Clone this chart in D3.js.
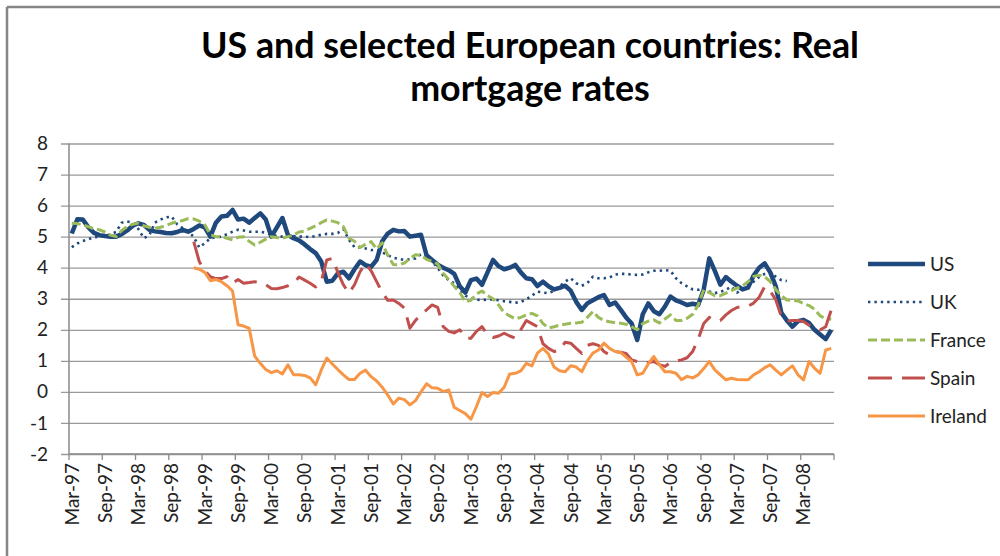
<!DOCTYPE html>
<html>
<head>
<meta charset="utf-8">
<script src="https://cdn.jsdelivr.net/npm/d3@7"></script>
<style>
  body { margin: 0; background: #fff; }
  svg { display: block; font-family: Lato, "Open Sans", sans-serif; }
</style>
</head>
<body>
<svg id="chart" width="1000" height="556"></svg>
<script>
// Monthly categories Mar-97 .. Aug-08
var startMonth = new Date(1997, 2, 1);
var months = d3.timeMonth.range(startMonth, new Date(2008, 8, 1));
var tickLabels = ["Mar-97","Sep-97","Mar-98","Sep-98","Mar-99","Sep-99","Mar-00","Sep-00",
  "Mar-01","Sep-01","Mar-02","Sep-02","Mar-03","Sep-03","Mar-04","Sep-04","Mar-05","Sep-05",
  "Mar-06","Sep-06","Mar-07","Sep-07","Mar-08"];
var yTicks = [-2, -1, 0, 1, 2, 3, 4, 5, 6, 7, 8];

var usValues = [5.1,5.56,5.55,5.3,5.12,5.05, 5.02,5.0,5.0,5.08,5.2,5.35, 5.43,5.38,5.22,5.17,5.15,5.12,
  5.11,5.15,5.22,5.16,5.25,5.36, 5.3,5.0,5.45,5.65,5.67,5.86, 5.55,5.58,5.45,5.6,5.75,5.55,
  5.0,5.3,5.6,5.05,4.95,4.88, 4.75,4.6,4.47,4.2,3.55,3.58, 3.82,3.87,3.66,3.95,4.2,4.08,
  4.03,4.25,4.85,5.1,5.22,5.17, 5.18,5.0,5.03,5.06,4.4,4.25, 4.1,4.0,3.92,3.8,3.4,3.2,
  3.6,3.65,3.45,3.85,4.25,4.05, 3.95,4.0,4.09,3.85,3.66,3.63, 3.41,3.55,3.4,3.3,3.35,3.42,
  3.26,2.9,2.64,2.85,2.95,3.05, 3.12,2.8,2.88,2.65,2.4,2.2, 1.67,2.5,2.85,2.6,2.5,2.75,
  3.07,2.95,2.88,2.8,2.84,2.8, 3.3,4.3,3.9,3.45,3.7,3.55, 3.42,3.3,3.36,3.75,4.0,4.14,
  3.85,3.4,2.55,2.3,2.1,2.28, 2.32,2.22,2.0,1.85,1.7,2.0];

var ukValues = [4.66,4.78,4.86,4.92,4.98,5.0, 5.02,5.08,5.15,5.45,5.49,5.45, 5.25,4.95,5.05,5.45,5.55,5.62,
  5.65,5.4,5.28,5.15,5.0,4.65, 4.79,4.95,4.98,5.0,5.08,5.16, 5.22,5.2,5.16,5.16,5.16,5.12,
  5.08,5.02,5.0,5.02,5.02,5.0, 5.0,4.98,5.02,5.06,5.09,5.09, 5.12,5.24,4.9,4.66,4.65,4.62,
  4.57,4.57,4.5,4.4,4.32,4.28, 4.25,4.27,4.3,4.44,4.3,4.2, 4.0,3.75,3.6,3.5,3.3,3.1,
  3.02,2.97,2.96,2.97,2.98,2.95, 2.92,2.9,2.87,2.9,2.98,3.1, 3.23,3.2,3.18,3.25,3.4,3.55,
  3.66,3.5,3.42,3.5,3.71,3.66, 3.66,3.68,3.78,3.8,3.8,3.78, 3.77,3.78,3.85,3.9,3.9,3.92,
  3.9,3.66,3.5,3.4,3.3,3.29, 3.34,3.23,3.18,3.22,3.29,3.39, 3.2,3.3,3.45,3.55,3.7,3.8,
  3.85,3.71,3.6,3.57,null,null, null,null,null,null,null,null];

var franceValues = [5.43,5.42,5.38,5.32,5.25,5.22, 5.15,5.05,5.0,5.2,5.32,5.4, 5.43,5.35,5.3,5.27,5.3,5.36,
  5.43,5.48,5.52,5.58,5.57,5.5, 5.38,5.06,5.0,5.0,4.95,4.9, 4.98,5.0,4.85,4.73,4.82,4.92,
  5.0,4.97,4.95,5.0,5.05,5.15, 5.18,5.27,5.35,5.45,5.54,5.5, 5.45,5.32,4.95,4.85,4.65,4.75,
  4.84,4.6,4.8,4.4,4.1,4.09, 4.15,4.3,4.42,4.4,4.27,4.2, 4.12,3.82,3.62,3.4,3.2,2.9,
  2.95,3.15,3.25,3.1,3.0,2.8, 2.55,2.45,2.35,2.4,2.48,2.53, 2.45,2.2,2.06,2.1,2.15,2.18,
  2.21,2.22,2.24,2.4,2.59,2.4, 2.3,2.26,2.23,2.21,2.18,2.1, 2.0,2.2,2.28,2.32,2.22,2.35,
  2.48,2.3,2.3,2.37,2.5,2.8, 3.29,3.2,3.1,3.1,3.18,3.26, 3.34,3.42,3.55,3.72,3.76,3.71,
  3.55,3.3,3.1,2.96,2.95,2.93, 2.85,2.78,2.66,2.45,2.36,2.34];

var spainValues = [null,null,null,null,null,null, null,null,null,null,null,null, null,null,null,null,null,null,
  null,null,null,null,4.84,4.2, 3.9,3.71,3.65,3.65,3.71,3.5, 3.62,3.5,3.52,3.55,3.5,3.45,
  3.33,3.32,3.36,3.42,3.5,3.7, 3.6,3.5,3.38,3.55,4.25,4.3, 3.85,3.45,3.18,3.45,3.87,4.14,
  3.9,3.55,3.2,2.95,2.96,2.85, 2.7,2.05,2.3,2.5,2.64,2.8, 2.72,2.1,1.95,1.9,2.0,1.73,
  1.73,1.95,2.1,1.85,1.75,1.8, 1.89,1.8,1.73,2.0,2.3,2.2, 2.1,1.55,1.4,1.3,1.35,1.6,
  1.57,1.4,1.24,1.5,1.55,1.5, 1.3,1.19,1.3,1.28,1.24,1.03, 0.98,0.92,0.95,0.98,0.88,0.82,
  0.95,1.0,1.03,1.1,1.3,1.7, 2.2,2.4,2.3,2.3,2.48,2.62, 2.72,2.75,2.76,2.86,3.05,3.39,
  3.25,2.96,2.43,2.28,2.3,2.3, 2.27,2.15,2.05,2.0,2.1,2.64];

var irelandValues = [null,null,null,null,null,null, null,null,null,null,null,null, null,null,null,null,null,null,
  null,null,null,null,4.0,3.95, 3.85,3.58,3.62,3.55,3.42,3.25, 2.16,2.12,2.05,1.15,0.92,0.72,
  0.62,0.68,0.58,0.87,0.55,0.55, 0.53,0.45,0.23,0.7,1.09,0.9, 0.72,0.55,0.4,0.4,0.6,0.7,
  0.49,0.35,0.15,-0.1,-0.39,-0.2, -0.25,-0.42,-0.28,0.0,0.26,0.13, 0.12,0.01,0.06,-0.5,-0.6,-0.7,
  -0.88,-0.47,-0.02,-0.15,-0.02,-0.04, 0.15,0.58,0.6,0.68,0.92,0.84, 1.25,1.4,1.22,0.8,0.68,0.65,
  0.84,0.8,0.65,1.0,1.25,1.35, 1.57,1.4,1.3,1.27,1.12,0.98, 0.55,0.6,0.9,1.14,0.87,0.65,
  0.65,0.6,0.39,0.5,0.45,0.55, 0.75,0.98,0.71,0.55,0.39,0.44, 0.4,0.39,0.39,0.55,0.65,0.78,
  0.87,0.7,0.55,0.7,0.84,0.55, 0.39,0.98,0.76,0.6,1.35,1.4];

var seriesNames = ["US", "UK", "France", "Spain", "Ireland"];
var seriesValues = [usValues, ukValues, franceValues, spainValues, irelandValues];
var seriesColours = ["#1F497D", "#1F497D", "#9BBB59", "#C0504D", "#F79646"];
var seriesWidths = [4.5, 2.6, 3, 3, 3];
var seriesDashes = [null, "2.4,4", "9,4", "24,10", null];

var svg = d3.select("#chart");
var plotLeft = 69, plotRight = 834, plotTop = 143.5, plotBottom = 454;

// chart frame (top and left edge only visible)
svg.append("line").attr("x1", 7).attr("x2", 1000).attr("y1", 7).attr("y2", 7)
  .attr("stroke", "#858585").attr("stroke-width", 2.5);
svg.append("line").attr("x1", 7).attr("x2", 7).attr("y1", 7).attr("y2", 556)
  .attr("stroke", "#858585").attr("stroke-width", 2.5);

// title, sized to fit the original width
var title = svg.append("g").attr("font-weight", "bold").attr("fill", "#000").attr("text-anchor", "middle");
var t1 = title.append("text").attr("x", 530).attr("y", 58).attr("font-size", 32)
  .text("US and selected European countries: Real");
var fs = 32 * 658 / t1.node().getComputedTextLength();
t1.attr("font-size", fs);
title.append("text").attr("x", 530).attr("y", 101).attr("font-size", fs).text("mortgage rates");

var x = d3.scaleBand().domain(d3.range(months.length)).range([plotLeft, plotRight]);
var y = d3.scaleLinear().domain([-2, 8]).range([plotBottom, plotTop]);

// y gridlines + labels (plain hyphen for negatives, like the original)
var yAxis = svg.append("g")
  .attr("transform", "translate(" + plotRight + ",0)")
  .call(d3.axisLeft(y).tickValues(yTicks).tickSize(plotRight - 61).tickPadding(13)
    .tickFormat(function(d) { return String(d); }));
yAxis.select(".domain").remove();
yAxis.selectAll(".tick line").attr("stroke", "#9a9a9a").attr("stroke-width", 1.3);
yAxis.selectAll(".tick text").attr("font-size", 19).attr("fill", "#222")
  .attr("font-family", "Lato, 'Open Sans', sans-serif");

// y axis line
svg.append("line").attr("x1", plotLeft).attr("x2", plotLeft).attr("y1", plotTop).attr("y2", plotBottom)
  .attr("stroke", "#8a8a8a").attr("stroke-width", 1.5);

// x axis line, ticks every 6 months at category boundaries
svg.append("line").attr("x1", plotLeft).attr("x2", plotRight).attr("y1", plotBottom).attr("y2", plotBottom)
  .attr("stroke", "#8a8a8a").attr("stroke-width", 1.5);
var tickIdx = d3.range(0, months.length, 6);
svg.append("g").selectAll("line")
  .data(tickIdx.concat([months.length]))
  .join("line")
  .attr("x1", function(d) { return d < months.length ? x(d) : plotRight; })
  .attr("x2", function(d) { return d < months.length ? x(d) : plotRight; })
  .attr("y1", plotBottom).attr("y2", plotBottom + 6)
  .attr("stroke", "#8a8a8a").attr("stroke-width", 1.3);

svg.append("g").selectAll("text")
  .data(tickLabels)
  .join("text")
  .attr("transform", function(d, i) {
    return "translate(" + (x(i * 6) + x.bandwidth() / 2) + "," + (plotBottom + 9) + ") rotate(-90)";
  })
  .attr("text-anchor", "end")
  .attr("dy", "0.36em")
  .attr("font-size", 19)
  .attr("fill", "#222")
  .text(function(d) { return d; });

// series lines
var line = d3.line()
  .defined(function(d) { return d != null; })
  .x(function(d, i) { return x(i) + x.bandwidth() / 2; })
  .y(function(d) { return y(d); });

svg.append("g").selectAll("path")
  .data(seriesValues)
  .join("path")
  .attr("d", line)
  .attr("fill", "none")
  .attr("stroke", function(d, i) { return seriesColours[i]; })
  .attr("stroke-width", function(d, i) { return seriesWidths[i]; })
  .attr("stroke-dasharray", function(d, i) { return seriesDashes[i]; })
  .attr("stroke-linejoin", "round");

// legend
var legend = svg.append("g").selectAll("g")
  .data(seriesNames)
  .join("g")
  .attr("transform", function(d, i) { return "translate(868," + (264 + i * 38) + ")"; });
legend.append("line")
  .attr("x1", 0).attr("x2", 57).attr("y1", 0).attr("y2", 0)
  .attr("stroke", function(d, i) { return seriesColours[i]; })
  .attr("stroke-width", function(d, i) { return seriesWidths[i]; })
  .attr("stroke-dasharray", function(d, i) { return seriesDashes[i]; });
legend.append("text")
  .attr("x", 62).attr("dy", "0.36em")
  .attr("font-size", 19).attr("fill", "#222")
  .text(function(d) { return d; });
</script>
</body>
</html>
